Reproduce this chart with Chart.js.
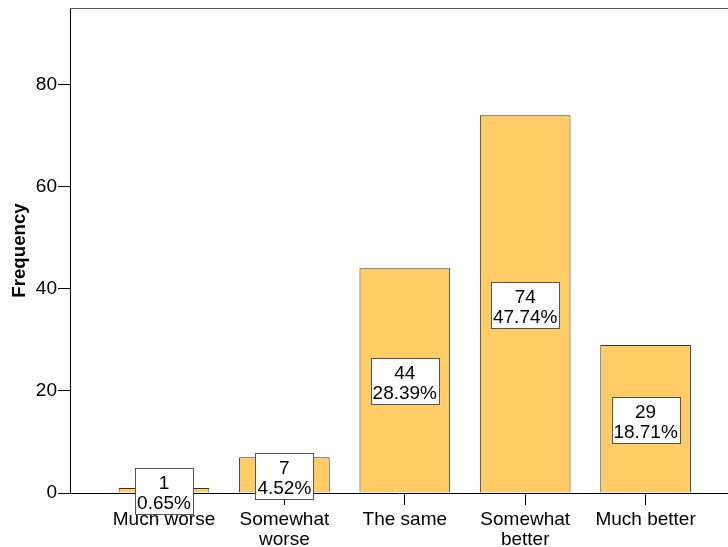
<!DOCTYPE html>
<html>
<head>
<meta charset="utf-8">
<script src="https://cdn.jsdelivr.net/npm/chart.js@4/dist/chart.umd.min.js"></script>
<style>
  html, body { margin: 0; padding: 0; background: #fff; }
  #wrap { width: 728px; height: 547px; }
</style>
</head>
<body>
<div id="wrap"><canvas id="c" width="728" height="547"></canvas></div>
<script>
// Responses and their counts
const categories = ['Much worse', ['Somewhat', 'worse'], 'The same', ['Somewhat', 'better'], 'Much better'];
const frequencies = [1, 7, 44, 74, 29];
const yTicks = [0, 20, 40, 60, 80];

const total = frequencies.reduce((a, b) => a + b, 0);
const FONT = '"Liberation Sans", Arial, sans-serif';

// Count + percentage boxes centred on each bar
const valueBoxes = {
  id: 'valueBoxes',
  afterDatasetsDraw(chart) {
    const ctx = chart.ctx;
    const meta = chart.getDatasetMeta(0);
    ctx.save();
    ctx.font = '19px ' + FONT;
    ctx.textAlign = 'center';
    ctx.textBaseline = 'alphabetic';
    meta.data.forEach((bar, i) => {
      const v = frequencies[i];
      const lines = [String(v), (v / total * 100).toFixed(2) + '%'];
      const w = Math.round(Math.max(...lines.map(t => ctx.measureText(t).width)) + 4);
      const h = 46;
      const cy = (bar.y + bar.base) / 2 + 1;
      const left = Math.round(bar.x - w / 2) + 0.5;
      const top = Math.round(cy - h / 2) + 0.5;
      ctx.fillStyle = '#fff';
      ctx.fillRect(left, top, w, h);
      ctx.strokeStyle = '#555';
      ctx.lineWidth = 1;
      ctx.strokeRect(left, top, w, h);
      ctx.fillStyle = '#000';
      ctx.fillText(lines[0], bar.x, top + 20);
      ctx.fillText(lines[1], bar.x, top + 40);
    });
    ctx.restore();
  }
};

// Upper edge of the plot frame
const frameTop = {
  id: 'frameTop',
  afterDraw(chart) {
    const { ctx, chartArea } = chart;
    ctx.save();
    ctx.strokeStyle = '#555';
    ctx.lineWidth = 1;
    ctx.beginPath();
    ctx.moveTo(chartArea.left, Math.round(chartArea.top) + 0.5);
    ctx.lineTo(chartArea.right, Math.round(chartArea.top) + 0.5);
    ctx.stroke();
    ctx.restore();
  }
};

new Chart(document.getElementById('c'), {
  type: 'bar',
  data: {
    datasets: [{
      label: 'Frequency',
      data: frequencies.map((v, i) => ({ x: i, y: v })),
      backgroundColor: '#ffcc66',
      borderColor: '#333',
      borderWidth: 1,
      barPercentage: 0.753,
      categoryPercentage: 1
    }]
  },
  options: {
    responsive: false,
    animation: false,
    devicePixelRatio: 1,
    layout: { padding: { top: 8, left: 0, right: 0, bottom: 0 } },
    plugins: { legend: { display: false }, tooltip: { enabled: false } },
    scales: {
      x: {
        type: 'linear',
        min: -0.7807,
        max: 4.6844,
        offset: false,
        afterBuildTicks: s => { s.ticks = categories.map((c, i) => ({ value: i })); },
        afterFit: s => { s.height = 54; s.paddingLeft = 0; s.paddingRight = 0; },
        grid: { offset: false, drawOnChartArea: false, drawTicks: true, tickLength: 12, tickColor: '#000' },
        border: { display: true, color: '#000', width: 1 },
        ticks: {
          autoSkip: false, maxRotation: 0, minRotation: 0, padding: 4, color: '#000',
          font: { family: FONT, size: 19, lineHeight: 1.09 },
          callback: v => categories[v]
        }
      },
      y: {
        min: 0,
        max: 95,
        afterBuildTicks: s => { s.ticks = yTicks.map(v => ({ value: v })); },
        afterFit: s => { s.width = 70; s.paddingTop = 0; s.paddingBottom = 0; },
        grid: { drawOnChartArea: false, drawTicks: true, tickLength: 12, tickColor: '#000' },
        border: { display: true, color: '#000', width: 1 },
        ticks: { padding: 1, color: '#000', font: { family: FONT, size: 19 } },
        title: {
          display: true, text: 'Frequency', color: '#000',
          font: { family: FONT, size: 18.7, weight: 'bold' },
          padding: { top: 9, bottom: 0 }
        }
      }
    }
  },
  plugins: [valueBoxes, frameTop]
});
</script>
</body>
</html>
